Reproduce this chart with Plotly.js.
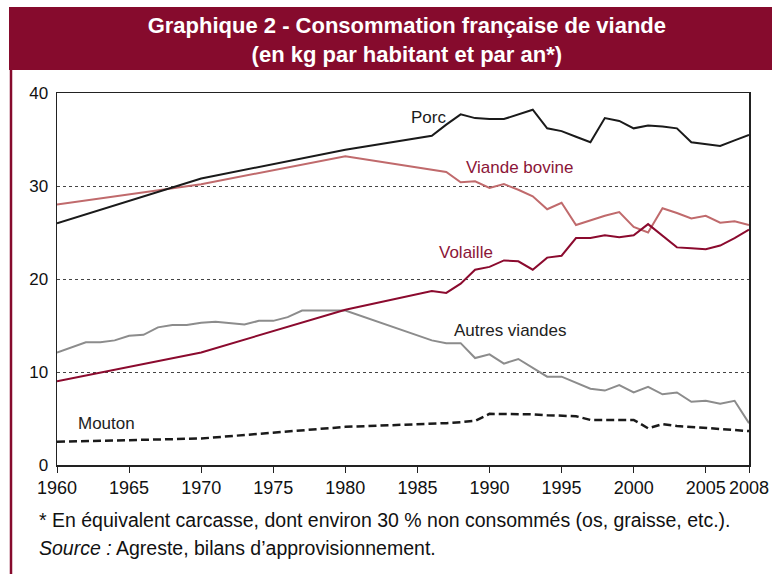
<!DOCTYPE html>
<html>
<head>
<meta charset="utf-8">
<script src="https://cdn.plot.ly/plotly-3.0.1.min.js"></script>
<style>
html,body{margin:0;padding:0;background:#fff;}
#chart{width:772px;height:574px;}
</style>
</head>
<body>
<div id="chart"></div>
<script>
// ---- Data (kg per inhabitant per year) ----
var yearsMain = [1960,1970,1980,1986,1987,1988,1989,1990,1991,1992,1993,1994,1995,1996,1997,1998,1999,2000,2001,2002,2003,2004,2005,2006,2007,2008];
var porc = [26.0,30.8,33.9,35.4,36.6,37.7,37.3,37.2,37.2,37.7,38.2,36.2,35.9,35.3,34.7,37.3,37.0,36.2,36.5,36.4,36.2,34.7,34.5,34.3,34.9,35.5];
var bovine = [28.0,30.2,33.2,31.7,31.5,30.4,30.5,29.8,30.2,29.6,28.9,27.5,28.2,25.8,26.3,26.8,27.2,25.6,25.0,27.6,27.1,26.5,26.8,26.05,26.2,25.8];
var volaille = [9.0,12.1,16.7,18.7,18.5,19.5,21.0,21.3,22.0,21.9,21.0,22.3,22.5,24.4,24.4,24.7,24.5,24.7,25.9,24.65,23.4,23.3,23.2,23.6,24.4,25.3];
var mouton = [2.5,2.85,4.1,4.4,4.5,4.6,4.75,5.5,5.5,5.5,5.45,5.35,5.3,5.25,4.85,4.85,4.85,4.85,3.95,4.4,4.2,4.1,4.0,3.9,3.8,3.65];
var yearsAutres = [1960,1961,1962,1963,1964,1965,1966,1967,1968,1969,1970,1971,1972,1973,1974,1975,1976,1977,1978,1979,1980,
  1986,1987,1988,1989,1990,1991,1992,1993,1994,1995,1996,1997,1998,1999,2000,2001,2002,2003,2004,2005,2006,2007,2008];
var autres = [12.1,12.65,13.2,13.2,13.4,13.9,14.0,14.8,15.05,15.05,15.3,15.4,15.25,15.1,15.5,15.5,15.9,16.6,16.6,16.6,16.6,
  13.4,13.1,13.1,11.5,11.9,10.9,11.4,10.45,9.5,9.5,8.85,8.2,8.0,8.6,7.8,8.4,7.6,7.8,6.8,6.9,6.6,6.9,4.5];
var xTicks = [1960,1965,1970,1975,1980,1985,1990,1995,2000,2005,2008];
var yTicks = [0,10,20,30,40];
var seriesLabels = ["Porc","Viande bovine","Volaille","Autres viandes","Mouton"];

var RED = "#860b2d";
var FONT = "Liberation Sans, Arial, sans-serif";

var traces = [
  {x: yearsAutres, y: autres, name: seriesLabels[3], mode:"lines", line:{color:"#8c8c8c", width:2}},
  {x: yearsMain, y: mouton, name: seriesLabels[4], mode:"lines", line:{color:"#1a1a1a", width:2.5, dash:"8px,4px"}},
  {x: yearsMain, y: bovine, name: seriesLabels[1], mode:"lines", line:{color:"#c06a6c", width:2}},
  {x: yearsMain, y: volaille, name: seriesLabels[2], mode:"lines", line:{color:"#8b0a2e", width:2}},
  {x: yearsMain, y: porc, name: seriesLabels[0], mode:"lines", line:{color:"#1a1a1a", width:2}}
];

function lab(text, x, y, color){
  return {text:text, x:x, y:y, xref:"x", yref:"y", showarrow:false,
          xanchor:"center", yanchor:"middle", font:{family:FONT, size:17, color:color}};
}

var layout = {
  width:772, height:574,
  margin:{l:57, r:23, t:93, b:109},
  paper_bgcolor:"#fff", plot_bgcolor:"#fff",
  showlegend:false,
  title:{
    text:"<b>Graphique 2 - Consommation française de viande<br>(en kg par habitant et par an*)</b>",
    font:{family:FONT, size:22, color:"#fff"},
    x:0.527, xref:"container", xanchor:"center",
    y:1-33/574, yref:"container", yanchor:"middle"
  },
  xaxis:{
    range:[1960,2008], tickvals:xTicks, ticktext:xTicks.map(String),
    showgrid:false, zeroline:false,
    showline:true, linecolor:"#222", linewidth:1.5, mirror:true,
    ticks:"outside", ticklen:6, tickcolor:"#222", tickwidth:1,
    tickangle:0, autotickangles:[0],
    tickfont:{family:FONT, size:18, color:"#111"}
  },
  yaxis:{
    range:[0,40], tickvals:yTicks, ticktext:yTicks.map(String),
    showgrid:true, gridcolor:"#444", gridwidth:1, griddash:"dot",
    zeroline:false,
    showline:true, linecolor:"#222", linewidth:1.5, mirror:true,
    ticks:"", ticklabelstandoff:4,
    tickfont:{family:FONT, size:17, color:"#111"}
  },
  shapes:[
    {type:"rect", xref:"paper", yref:"paper", x0:(9-57)/692, x1:(775-57)/692, y0:(465-70)/372, y1:(465-7)/372,
     fillcolor:RED, line:{width:0}, layer:"below"},
    {type:"line", xref:"paper", yref:"paper", x0:(11-57)/692, x1:(11-57)/692, y0:(465-576)/372, y1:(465-70)/372,
     line:{color:RED, width:2.5}, layer:"below"}
  ],
  annotations:[
    lab(seriesLabels[0], 1985.8, 37.4, "#1a1a1a"),
    lab(seriesLabels[1], 1992.06, 32.0, "#8b1538"),
    lab(seriesLabels[2], 1988.4, 22.8, "#8b1538"),
    lab(seriesLabels[3], 1991.4, 14.5, "#222"),
    lab(seriesLabels[4], 1963.4, 4.5, "#222"),
    {text:"* En équivalent carcasse, dont environ 30 % non consommés (os, graisse, etc.).",
     xref:"paper", yref:"paper", x:(37-57)/692, y:(465-520)/372, xanchor:"left", yanchor:"middle",
     showarrow:false, font:{family:FONT, size:19.5, color:"#111"}},
    {text:"<i>Source :</i> Agreste, bilans d’approvisionnement.",
     xref:"paper", yref:"paper", x:(37-57)/692, y:(465-548)/372, xanchor:"left", yanchor:"middle",
     showarrow:false, font:{family:FONT, size:19.5, color:"#111"}}
  ]
};

Plotly.newPlot("chart", traces, layout, {displayModeBar:false, staticPlot:true});
</script>
</body>
</html>
